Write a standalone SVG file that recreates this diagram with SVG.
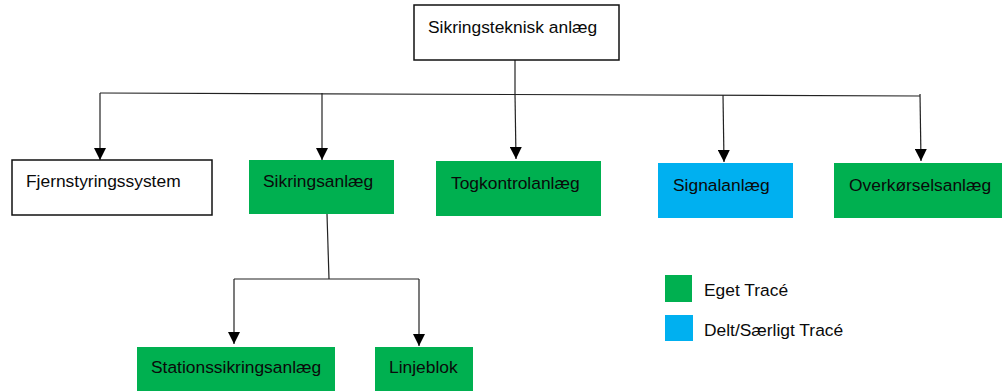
<svg xmlns="http://www.w3.org/2000/svg" width="1002" height="391" viewBox="0 0 1002 391">
  <style>
    .lbl { font-family: "Liberation Sans", Arial, sans-serif; font-size: 17.4px; fill: #0a0a0a; }
    .white { fill: #ffffff; stroke: #111; stroke-width: 1.5; }
    .green { fill: #00B050; }
    .blue { fill: #00B0F0; }
    .conn { fill: none; stroke: #222; stroke-width: 1.2; }
  </style>
  <defs>
    <marker id="arrow" markerUnits="userSpaceOnUse" markerWidth="12" markerHeight="12" viewBox="0 0 10 10" refX="10" refY="5" orient="auto">
      <path d="M0,0 L10,5 L0,10 z" fill="#000"/>
    </marker>
  </defs>
  <rect width="1002" height="391" fill="#ffffff"/>

  <g id="connectors">
    <polyline class="conn" points="100,93 920,96"/>
    <line class="conn" x1="515" y1="60" x2="515" y2="94"/>
    <line class="conn" x1="100" y1="93" x2="100" y2="160" marker-end="url(#arrow)"/>
    <line class="conn" x1="322" y1="93" x2="322" y2="160" marker-end="url(#arrow)"/>
    <line class="conn" x1="515" y1="94" x2="516" y2="159" marker-end="url(#arrow)"/>
    <line class="conn" x1="723" y1="95" x2="724" y2="162" marker-end="url(#arrow)"/>
    <line class="conn" x1="920" y1="94" x2="921" y2="161" marker-end="url(#arrow)"/>
    <line class="conn" x1="327" y1="214" x2="329" y2="279"/>
    <line class="conn" x1="234" y1="279" x2="419" y2="279"/>
    <line class="conn" x1="234" y1="279" x2="234" y2="344" marker-end="url(#arrow)"/>
    <line class="conn" x1="419" y1="279" x2="419" y2="346" marker-end="url(#arrow)"/>
  </g>

  <g id="node-sikringsteknisk">
    <rect class="white" x="414" y="5" width="205" height="55"/>
    <text class="lbl" x="428" y="33">Sikringsteknisk anlæg</text>
  </g>
  <g id="node-fjernstyring">
    <rect class="white" x="12" y="160" width="200" height="55"/>
    <text class="lbl" x="26" y="187">Fjernstyringssystem</text>
  </g>
  <g id="node-sikringsanlaeg">
    <rect class="green" x="249" y="160" width="145" height="54"/>
    <text class="lbl" x="263" y="187">Sikringsanlæg</text>
  </g>
  <g id="node-togkontrol">
    <rect class="green" x="436" y="161" width="165" height="55"/>
    <text class="lbl" x="451" y="189">Togkontrolanlæg</text>
  </g>
  <g id="node-signal">
    <rect class="blue" x="658" y="163" width="135" height="55"/>
    <text class="lbl" x="673" y="191">Signalanlæg</text>
  </g>
  <g id="node-overkoersel">
    <rect class="green" x="834" y="163" width="168" height="55"/>
    <text class="lbl" x="849" y="191">Overkørselsanlæg</text>
  </g>
  <g id="node-station">
    <rect class="green" x="137" y="347" width="198" height="50"/>
    <text class="lbl" x="151" y="373">Stationssikringsanlæg</text>
  </g>
  <g id="node-linjeblok">
    <rect class="green" x="375" y="347" width="98" height="50"/>
    <text class="lbl" x="389" y="373">Linjeblok</text>
  </g>

  <g id="legend">
    <rect class="green" x="665" y="275" width="27" height="27"/>
    <text class="lbl" x="704" y="296">Eget Tracé</text>
    <rect class="blue" x="665" y="315" width="28" height="26"/>
    <text class="lbl" x="704" y="336">Delt/Særligt Tracé</text>
  </g>
</svg>
